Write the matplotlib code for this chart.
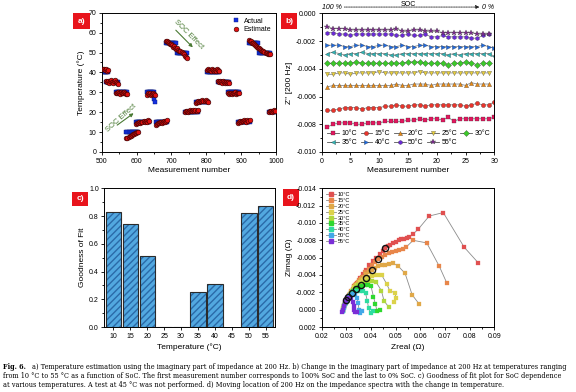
import numpy as np
import matplotlib.pyplot as plt
from matplotlib.patches import Rectangle
from matplotlib.lines import Line2D
from matplotlib.ticker import AutoMinorLocator, MultipleLocator, FormatStrFormatter

plt.rcParams['font.family'] = ['Liberation Sans', 'DejaVu Sans']

# ---------------- a) temperature estimation ----------------
act_start = [503, 511, 540, 571, 599, 629, 655, 684, 716, 739, 771, 801, 833, 862, 891, 922, 952, 980]
act_end = [518, 547, 573, 604, 635, 650, 688, 715, 746, 775, 805, 837, 866, 895, 925, 951, 982, 1000]
act_temp = [40, 35, 30, 10, 15, 30, 15, 55, 50, 20, 25, 40, 35, 30, 15, 55, 50, 20]
act_extra_x = [651, 652]
act_extra_y = [26.8, 25.2]

est_step = 3
est_start = [503, 511, 540, 571, 599, 629, 655, 684, 739, 771, 801, 833, 862, 891, 922, 980]
est_vals = [
    [41.5, 41.8, 41.2, 41.6, 40.8, 41.3],
    [35.8, 35.2, 35.5, 34.8, 35.6, 36.1, 35.3, 34.9, 35.7, 36.0, 35.2, 34.6, 34.0],
    [29.8, 29.5, 30.1, 29.6, 29.3, 29.9, 29.7, 29.4, 30.0, 29.5, 28.9, 29.2],
    [6.8, 7.2, 7.6, 7.9, 8.2, 8.5, 8.8, 9.0, 9.3, 9.5, 9.8, 10.0],
    [14.3, 14.8, 14.5, 15.0, 14.7, 15.2, 15.0, 15.4, 15.1, 15.6, 15.3, 15.9, 15.5],
    [28.8, 29.4, 29.0, 29.6, 28.6, 29.2, 29.8, 29.1, 28.7],
    [13.8, 14.2, 14.6, 14.4, 14.9, 15.1, 14.8, 15.3, 15.5, 15.2, 15.8, 16.0],
    [56.0, 55.6, 55.2, 54.8, 54.1, 54.5, 53.6, 53.0, 53.4, 52.5, 52.0, 52.3, 51.5, 51.0,
     50.6, 50.2, 49.5, 49.0, 48.4, 47.8, 47.2],
    [20.2, 20.5, 20.8, 20.3, 20.6, 21.0, 20.4, 20.7, 21.1, 20.5, 20.9, 20.6, 21.2],
    [24.8, 25.3, 25.6, 25.2, 25.8, 25.5, 25.9, 25.4, 25.7, 26.0, 25.6, 25.3],
    [41.2, 41.6, 41.0, 41.4, 40.8, 41.5, 41.1, 40.7, 41.3, 40.9, 41.6, 41.0, 40.6],
    [35.8, 35.4, 35.9, 35.2, 34.9, 35.5, 35.1, 34.6, 35.3, 34.8, 35.4, 34.9],
    [29.6, 29.3, 29.8, 29.5, 29.1, 29.7, 29.4, 29.9, 29.2, 29.6, 29.8, 29.5],
    [14.6, 15.2, 15.5, 15.0, 15.8, 15.4, 16.0, 15.6, 15.3, 15.9, 15.7, 16.1],
    [56.2, 55.8, 55.9, 55.0, 54.6, 54.2, 53.8, 53.3, 53.0, 52.5, 52.1, 51.8, 51.3, 51.0,
     50.6, 50.3, 49.9, 49.6, 49.3, 49.2, 49.0],
    [20.0, 20.4, 20.7, 20.3, 20.8, 21.0, 20.6],
]

# ---------------- b) Z'' at 200 Hz ----------------
b_labels = ['10°C', '15°C', '20°C', '25°C', '30°C', '35°C', '40°C', '50°C', '55°C']
b_colors = ['#e3175f', '#e8352c', '#e98a14', '#e8cf3c', '#3cc82a', '#2fb5b5', '#1f6be0', '#6a2ad6', '#7b2a8c']
b_markers = ['s', 'o', '^', 'v', 'D', '<', '>', 'h', '*']
b_vals = [
    [-0.0082, -0.0080, -0.0079, -0.0079, -0.0079, -0.0080, -0.0080, -0.0079, -0.0079, -0.0079,
     -0.0078, -0.0078, -0.0078, -0.0078, -0.0077, -0.0077, -0.0076, -0.0077, -0.0076, -0.0076,
     -0.0077, -0.0075, -0.0078, -0.0076, -0.0076, -0.0076, -0.0076, -0.0076, -0.0076, -0.0075],
    [-0.0070, -0.0070, -0.0069, -0.0068, -0.0068, -0.0068, -0.0069, -0.0068, -0.0068, -0.0068,
     -0.0067, -0.0067, -0.0066, -0.0067, -0.0067, -0.0066, -0.0066, -0.0067, -0.0066, -0.0066,
     -0.0066, -0.0066, -0.0066, -0.0066, -0.0067, -0.0066, -0.0065, -0.0066, -0.0066, -0.0064],
    [-0.0053, -0.0052, -0.0052, -0.0052, -0.0052, -0.0052, -0.0052, -0.0052, -0.0052, -0.0052,
     -0.0052, -0.0052, -0.0051, -0.0052, -0.0052, -0.0051, -0.0051, -0.0051, -0.0052, -0.0051,
     -0.0051, -0.0051, -0.0051, -0.0051, -0.0052, -0.0050, -0.0051, -0.0051, -0.0051],
    [-0.0044, -0.0044, -0.0043, -0.0043, -0.0044, -0.0043, -0.0043, -0.0043, -0.0043, -0.0042,
     -0.0043, -0.0043, -0.0043, -0.0043, -0.0043, -0.0043, -0.0042, -0.0043, -0.0043, -0.0043,
     -0.0043, -0.0043, -0.0043, -0.0043, -0.0043, -0.0043, -0.0043, -0.0043, -0.0043],
    [-0.0036, -0.0036, -0.0036, -0.0036, -0.0036, -0.0035, -0.0036, -0.0036, -0.0036, -0.0036,
     -0.0036, -0.0036, -0.0036, -0.0036, -0.0035, -0.0035, -0.0035, -0.0036, -0.0036, -0.0036,
     -0.0036, -0.0037, -0.0036, -0.0036, -0.0035, -0.0036, -0.0037, -0.0036, -0.0036],
    [-0.0029, -0.0028, -0.0029, -0.0030, -0.0029, -0.0029, -0.0028, -0.0029, -0.0029, -0.0029,
     -0.0029, -0.0030, -0.0030, -0.0029, -0.0029, -0.0029, -0.0029, -0.0029, -0.0029, -0.0029,
     -0.0029, -0.0030, -0.0029, -0.0030, -0.0029, -0.0029, -0.0029, -0.0029, -0.0029, -0.0031],
    [-0.0023, -0.0023, -0.0023, -0.0024, -0.0024, -0.0023, -0.0023, -0.0024, -0.0024, -0.0023,
     -0.0023, -0.0024, -0.0024, -0.0023, -0.0024, -0.0024, -0.0023, -0.0023, -0.0024, -0.0024,
     -0.0024, -0.0024, -0.0024, -0.0024, -0.0024, -0.0024, -0.0024, -0.0023, -0.0024, -0.0025],
    [-0.0014, -0.0014, -0.0015, -0.0015, -0.0016, -0.0015, -0.0015, -0.0015, -0.0015, -0.0015,
     -0.0015, -0.0015, -0.0016, -0.0016, -0.0015, -0.0016, -0.0016, -0.0015, -0.0017, -0.0017,
     -0.0016, -0.0017, -0.0017, -0.0017, -0.0017, -0.0018, -0.0018, -0.0016, -0.0015],
    [-0.0010, -0.0011, -0.0011, -0.0011, -0.0012, -0.0012, -0.0012, -0.0012, -0.0012, -0.0012,
     -0.0012, -0.0012, -0.0011, -0.0013, -0.0013, -0.0012, -0.0012, -0.0013, -0.0013, -0.0013,
     -0.0014, -0.0014, -0.0014, -0.0014, -0.0014, -0.0014, -0.0015, -0.0015, -0.0015],
]
# legend filled column by column: this order gives rows 10..30 / 35..55
b_legend_order = [0, 5, 1, 6, 2, 7, 3, 8, 4]

# ---------------- c) goodness of fit ----------------
c_temps = [10, 15, 20, 25, 30, 35, 40, 50, 55]
c_fit = [0.83, 0.74, 0.51, 0.0, 0.003, 0.25, 0.31, 0.82, 0.87]
c_ticks = [10, 15, 20, 25, 30, 35, 40, 45, 50, 55]

# ---------------- d) Nyquist spectra ----------------
d_labels = ['10°C', '15°C', '20°C', '25°C', '30°C', '35°C', '40°C', '50°C', '55°C']
d_colors = ['#e05050', '#e8864a', '#e0a848', '#dcd24a', '#b0d83c', '#2ed82e', '#2edca0', '#42a8e8', '#7a2ed6']
d_re = [
    [0.0290, 0.0297, 0.0305, 0.0313, 0.0322, 0.0332, 0.0343, 0.0355, 0.0367, 0.0380, 0.0393, 0.0407,
     0.0421, 0.0435, 0.0447, 0.0457, 0.0468, 0.0479, 0.0490, 0.0501, 0.0512, 0.0523, 0.0534, 0.0545,
     0.0556, 0.0570, 0.0592, 0.0636, 0.0693, 0.0778, 0.0835],
    [0.0289, 0.0296, 0.0303, 0.0311, 0.0320, 0.0330, 0.0341, 0.0352, 0.0364, 0.0377, 0.0390, 0.0403,
     0.0417, 0.0430, 0.0444, 0.0458, 0.0472, 0.0486, 0.0500, 0.0514, 0.0528, 0.0542, 0.0571, 0.0626,
     0.0677, 0.0707],
    [0.0288, 0.0294, 0.0301, 0.0309, 0.0318, 0.0327, 0.0337, 0.0348, 0.0359, 0.0370, 0.0381, 0.0392,
     0.0403, 0.0416, 0.0430, 0.0444, 0.0458, 0.0472, 0.0488, 0.0511, 0.0538, 0.0567, 0.0594],
    [0.0287, 0.0293, 0.0300, 0.0307, 0.0315, 0.0324, 0.0333, 0.0343, 0.0354, 0.0366, 0.0378, 0.0390,
     0.0402, 0.0414, 0.0428, 0.0443, 0.0463, 0.0476, 0.0499, 0.0500, 0.0493],
    [0.0287, 0.0292, 0.0298, 0.0305, 0.0313, 0.0321, 0.0330, 0.0339, 0.0348, 0.0358, 0.0368, 0.0380,
     0.0392, 0.0405, 0.0420, 0.0442, 0.0453, 0.0472],
    [0.0286, 0.0291, 0.0297, 0.0303, 0.0310, 0.0318, 0.0326, 0.0338, 0.0350, 0.0362, 0.0375, 0.0388,
     0.0400, 0.0410, 0.0418, 0.0425, 0.0437],
    [0.0286, 0.0290, 0.0295, 0.0301, 0.0308, 0.0315, 0.0322, 0.0332, 0.0343, 0.0355, 0.0367, 0.0378,
     0.0385, 0.0390, 0.0398, 0.0410],
    [0.0285, 0.0289, 0.0293, 0.0298, 0.0303, 0.0308, 0.0316, 0.0325, 0.0335, 0.0343, 0.0348, 0.0351,
     0.0355, 0.0365],
    [0.0284, 0.0287, 0.0290, 0.0294, 0.0297, 0.0303, 0.0310, 0.0318, 0.0325, 0.0329, 0.0331, 0.0336,
     0.0345],
]
d_im = [
    [-0.0004, -0.0009, -0.0014, -0.0018, -0.0022, -0.0027, -0.0031, -0.0036, -0.0041, -0.0046, -0.0051,
     -0.0056, -0.0060, -0.0064, -0.0068, -0.0071, -0.0073, -0.0075, -0.0077, -0.0078, -0.0080, -0.0081,
     -0.0082, -0.0083, -0.0084, -0.0087, -0.0093, -0.0108, -0.0112, -0.0072, -0.0054],
    [-0.0003, -0.0008, -0.0013, -0.0017, -0.0021, -0.0026, -0.0030, -0.0034, -0.0038, -0.0043, -0.0047,
     -0.0051, -0.0055, -0.0058, -0.0061, -0.0063, -0.0065, -0.0066, -0.0068, -0.0069, -0.0070, -0.0072,
     -0.0080, -0.0077, -0.0050, -0.0031],
    [-0.0002, -0.0007, -0.0012, -0.0016, -0.0020, -0.0024, -0.0028, -0.0032, -0.0035, -0.0038, -0.0041,
     -0.0044, -0.0046, -0.0048, -0.0050, -0.0051, -0.0052, -0.0053, -0.0054, -0.0050, -0.0042, -0.0017,
     -0.0007],
    [-0.0001, -0.0006, -0.0010, -0.0014, -0.0018, -0.0022, -0.0026, -0.0029, -0.0032, -0.0034, -0.0036,
     -0.0038, -0.0039, -0.0040, -0.0040, -0.0040, -0.0030, -0.0022, -0.0019, -0.0014, -0.0009],
    [0.0000, -0.0005, -0.0009, -0.0013, -0.0017, -0.0020, -0.0023, -0.0026, -0.0028, -0.0029, -0.0031,
     -0.0032, -0.0033, -0.0033, -0.0032, -0.0022, -0.0010, -0.0003],
    [0.0001, -0.0004, -0.0008, -0.0011, -0.0015, -0.0018, -0.0021, -0.0024, -0.0026, -0.0027, -0.0028,
     -0.0028, -0.0027, -0.0015, -0.0006, 0.0002, 0.0000],
    [0.0002, -0.0003, -0.0007, -0.0010, -0.0013, -0.0016, -0.0019, -0.0021, -0.0022, -0.0022, -0.0021,
     -0.0019, -0.0010, -0.0002, 0.0004, 0.0001],
    [0.0002, -0.0002, -0.0006, -0.0009, -0.0012, -0.0015, -0.0017, -0.0018, -0.0017, -0.0014, -0.0008,
     0.0000, 0.0004, 0.0002],
    [0.0003, 0.0000, -0.0004, -0.0008, -0.0011, -0.0013, -0.0014, -0.0013, -0.0009, -0.0004, 0.0000,
     0.0003, 0.0003],
]
hz200_re = [0.0457, 0.0430, 0.0403, 0.0378, 0.0358, 0.0338, 0.0322, 0.0308, 0.0297]
hz200_im = [-0.0071, -0.0058, -0.0046, -0.0036, -0.0029, -0.0024, -0.0019, -0.0015, -0.0011]

W, H = 576, 392
fig = plt.figure(figsize=(W / 100, H / 100), dpi=100)


def px_axes(x0, y0, x1, y1):
    return fig.add_axes([x0 / W, 1 - y1 / H, (x1 - x0) / W, (y1 - y0) / H])


def style(ax):
    ax.tick_params(which='both', direction='out', labelsize=5, width=0.6, pad=1.5)
    ax.tick_params(which='major', length=2.5)
    ax.tick_params(which='minor', length=1.4)
    for s in ax.spines.values():
        s.set_linewidth(0.7)


def tag(x0, y0, x1, y1, txt):
    fig.patches.append(Rectangle((x0 / W, 1 - y1 / H), (x1 - x0) / W, (y1 - y0) / H,
                                 transform=fig.transFigure, facecolor='#e8141c', edgecolor='none',
                                 zorder=-1))
    fig.text((x0 + x1) / 2 / W, 1 - (y0 + y1) / 2 / H, txt, color='white', fontsize=6,
             fontweight='bold', ha='center', va='center')


# ---- panel a
axa = px_axes(101.7, 12.7, 276, 152)
for s, e, t in zip(act_start, act_end, act_temp):
    xs = np.arange(s, e + 1, est_step)
    axa.plot(xs, np.full(len(xs), t), 's', ms=3.2, color='#1430e0', mec='#0a1a80', mew=0.3, zorder=2)
axa.plot(act_extra_x, act_extra_y, 's', ms=3.2, color='#1430e0', mec='#0a1a80', mew=0.3, zorder=2)
for s, vals in zip(est_start, est_vals):
    xs = s + est_step * np.arange(len(vals))
    axa.plot(xs, vals, 'o', ms=3.4, color='#e01010', mec='#300000', mew=0.4, zorder=3)
axa.set_xlim(500, 1000)
axa.set_ylim(0, 70)
axa.xaxis.set_major_locator(MultipleLocator(100))
axa.yaxis.set_major_locator(MultipleLocator(10))
axa.xaxis.set_minor_locator(AutoMinorLocator(2))
axa.yaxis.set_minor_locator(AutoMinorLocator(2))
style(axa)
axa.set_xlabel('Measurement number', fontsize=6, labelpad=2)
axa.set_ylabel('Temperature (°C)', fontsize=6, labelpad=2)
h1 = Line2D([], [], ls='none', marker='s', ms=3.2, color='#1430e0', mec='#0a1a80', mew=0.3)
h2 = Line2D([], [], ls='none', marker='o', ms=3.4, color='#e01010', mec='#300000', mew=0.4)
axa.legend([h1, h2], ['Actual', 'Estimate'], loc='upper right', fontsize=5, frameon=False,
           handlelength=1.0, handletextpad=0.6, labelspacing=0.2, borderaxespad=0.3)
green = '#4a7a34'
axa.annotate('', xy=(767, 51.6), xytext=(707, 62.2),
             arrowprops=dict(arrowstyle='-|>', color=green, lw=0.8, mutation_scale=5))
axa.text(748, 59.3, 'SOC Effect', rotation=-45, color=green, fontsize=5.5, ha='center', va='center')
axa.annotate('', xy=(598, 20.3), xytext=(538, 12.7),
             arrowprops=dict(arrowstyle='-|>', color=green, lw=0.8, mutation_scale=5))
axa.text(557, 17.2, 'SOC Effect', rotation=42, color=green, fontsize=5.5, ha='center', va='center')

# ---- panel b
axb = px_axes(321.7, 13.3, 494.3, 152)
meas = np.arange(1, 31)
handles = []
for lab, col, mk, vals in zip(b_labels, b_colors, b_markers, b_vals):
    axb.plot(meas[:len(vals)], vals, '-', color='#8a8a8a', lw=0.6, zorder=1)
    ms = 3.8 if mk == '*' else 3.1
    axb.plot(meas[:len(vals)], vals, ls='none', marker=mk, ms=ms, color=col, mec='#303030', mew=0.2,
             zorder=2)
    handles.append(Line2D([], [], color='#555555', lw=0.6, marker=mk, ms=ms, mfc=col, mec='#303030',
                          mew=0.2))
axb.set_xlim(0, 30)
axb.set_ylim(-0.010, 0.0)
axb.xaxis.set_major_locator(MultipleLocator(5))
axb.yaxis.set_major_locator(MultipleLocator(0.002))
axb.xaxis.set_minor_locator(AutoMinorLocator(2))
axb.yaxis.set_minor_locator(AutoMinorLocator(2))
axb.yaxis.set_major_formatter(FormatStrFormatter('%.3f'))
style(axb)
axb.set_xlabel('Measurement number', fontsize=6, labelpad=2)
axb.set_ylabel("Z'' [200 Hz]", fontsize=6, labelpad=2)
axb.legend([handles[i] for i in b_legend_order], [b_labels[i] for i in b_legend_order],
           loc='lower left', ncol=5, fontsize=5, frameon=False,
           handlelength=1.7, handletextpad=0.35, columnspacing=0.5, labelspacing=0.35,
           borderaxespad=0.4)
axb.text(0.0, 1.045, '100 %', transform=axb.transAxes, fontsize=5, style='italic', va='center')
axb.text(1.0, 1.045, '0 %', transform=axb.transAxes, fontsize=5, style='italic', va='center', ha='right')
axb.text(0.5, 1.065, 'SOC', transform=axb.transAxes, fontsize=5, ha='center', va='center')
axb.annotate('', xy=(0.93, 1.045), xytext=(0.115, 1.045), xycoords='axes fraction',
             arrowprops=dict(arrowstyle='-|>', color='#222222', lw=0.6, ls=(0, (1, 1)), mutation_scale=5),
             annotation_clip=False)

# ---- panel c
axc = px_axes(104.3, 188.3, 275, 327)
axc.bar(c_temps, c_fit, width=4.5, color='#52a8e0', edgecolor='#2a6aa8', hatch='/////', lw=0, zorder=2)
axc.bar(c_temps, c_fit, width=4.5, fill=False, edgecolor='#2b2b2b', lw=0.8, zorder=3)
axc.set_xlim(7.35, 57.7)
axc.set_ylim(0, 1.0)
axc.set_xticks(c_ticks)
axc.yaxis.set_major_locator(MultipleLocator(0.2))
axc.yaxis.set_minor_locator(AutoMinorLocator(2))
style(axc)
axc.set_xlabel('Temperature (°C)', fontsize=6, labelpad=3)
axc.set_ylabel('Goodness of Fit', fontsize=6, labelpad=2)

# ---- panel d
axd = px_axes(321.7, 188.3, 494.3, 327)
handles = []
for lab, col, re, im in zip(d_labels, d_colors, d_re, d_im):
    axd.plot(re, im, '-', color='#8c8c8c', lw=0.6, zorder=1)
    axd.plot(re, im, ls='none', marker='s', ms=2.5, color=col, mec=col, mew=0.2, zorder=2)
    handles.append(Line2D([], [], color='#8c8c8c', lw=0.6, marker='s', ms=2.5, mfc=col, mec=col))
axd.plot(hz200_re, hz200_im, ls='none', marker='o', ms=4.4, mfc='none', mec='#111111', mew=1.0, zorder=3)
axd.set_xlim(0.02, 0.09)
axd.set_ylim(0.002, -0.014)
axd.xaxis.set_major_locator(MultipleLocator(0.01))
axd.yaxis.set_major_locator(MultipleLocator(0.002))
axd.xaxis.set_minor_locator(AutoMinorLocator(2))
axd.yaxis.set_minor_locator(AutoMinorLocator(2))
axd.xaxis.set_major_formatter(FormatStrFormatter('%.2f'))
axd.yaxis.set_major_formatter(FormatStrFormatter('%.3f'))
style(axd)
axd.set_xlabel('Zreal (Ω)', fontsize=6, labelpad=3)
axd.set_ylabel('Zimag (Ω)', fontsize=6, labelpad=2)
axd.legend(handles, d_labels, loc='upper left', fontsize=4, frameon=False, handlelength=1.8,
           handletextpad=0.4, labelspacing=0.15, borderaxespad=0.3)

tag(72.7, 13.3, 90, 29.3, 'a)')
tag(281, 13.3, 297, 29.3, 'b)')
tag(71.7, 192, 88.3, 206, 'c)')
tag(283, 189, 299, 205.7, 'd)')

# ---- caption
cap_fs = 4.7
cap_font = 'DejaVu Serif'
lines = [
    'a) Temperature estimation using the imaginary part of impedance at 200 Hz. b) Change in the imaginary '
    'part of impedance at 200 Hz at temperatures ranging',
    'from 10 °C to 55 °C as a function of SoC. The first measurement number corresponds to 100% SoC and '
    'the last to 0% SoC. c) Goodness of fit plot for SoC dependence',
    'at various temperatures. A test at 45 °C was not performed. d) Moving location of 200 Hz on the '
    'impedance spectra with the change in temperature.',
]
ys = [367, 376, 385]
x0 = 3 / W
t0 = fig.text(x0, 1 - ys[0] / H, 'Fig. 6.', fontsize=cap_fs, family=cap_font, fontweight='bold', va='center')
fig.canvas.draw()
bb = t0.get_window_extent()
fig.text((bb.x1 + 6) / W, 1 - ys[0] / H, lines[0], fontsize=cap_fs, family=cap_font, va='center')
fig.text(x0, 1 - ys[1] / H, lines[1], fontsize=cap_fs, family=cap_font, va='center')
fig.text(x0, 1 - ys[2] / H, lines[2], fontsize=cap_fs, family=cap_font, va='center')

fig.savefig('out.png', dpi=100)
